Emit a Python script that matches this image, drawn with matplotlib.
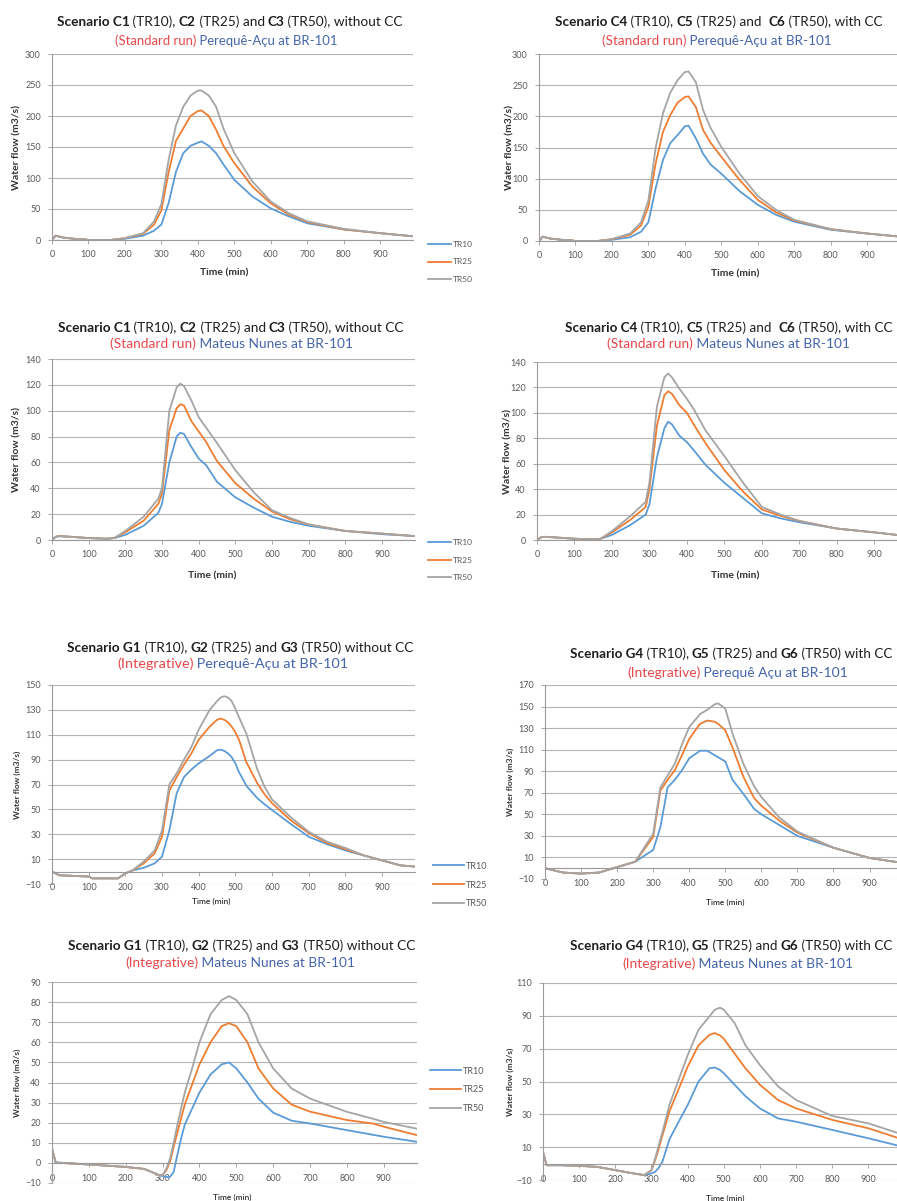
import matplotlib
matplotlib.use('Agg')
import matplotlib.pyplot as plt
from matplotlib.transforms import IdentityTransform

plt.rcParams['font.family'] = ['Lato', 'DejaVu Sans']

# ---------------- DATA ----------------
SERIES = ['TR10', 'TR25', 'TR50']

# Panel 1: Standard run, Perequê-Açu, without CC (C1, C2, C3)
T1 = [0, 10, 30, 60, 90, 100, 160, 200, 250, 280, 300, 320, 340, 360, 380, 400, 410, 430, 450, 470, 500, 550, 600, 650, 700, 800, 900, 990]
P1_TR10 = [0, 7, 4, 2, 1, 0, 0, 2, 7, 15, 25, 60, 110, 140, 152, 157, 159, 152, 140, 122, 97, 70, 51, 38, 27, 17, 11, 6]
P1_TR25 = [0, 7, 4, 2, 1, 0, 0, 3, 10, 25, 48, 110, 160, 180, 200, 208, 209, 200, 178, 152, 124, 86, 59, 41, 29, 17, 11, 6]
P1_TR50 = [0, 7, 4, 2, 1, 0, 0, 3, 11, 30, 58, 130, 185, 215, 233, 241, 241, 233, 215, 180, 140, 94, 62, 43, 30, 18, 11, 6]

# Panel 2: Standard run, Perequê-Açu, with CC (C4, C5, C6)
T2 = T1
P2_TR10 = [0, 7, 4, 2, 1, 0, 0, 2, 6, 15, 30, 85, 130, 157, 170, 184, 185, 165, 140, 123, 108, 80, 58, 42, 31, 18, 12, 7]
P2_TR25 = [0, 7, 4, 2, 1, 0, 0, 3, 10, 25, 55, 125, 175, 202, 222, 231, 232, 215, 178, 158, 135, 98, 66, 46, 33, 19, 12, 7]
P2_TR50 = [0, 7, 4, 2, 1, 0, 0, 3, 12, 30, 65, 150, 205, 238, 258, 271, 272, 255, 210, 182, 151, 108, 72, 50, 34, 19, 12, 7]

# Panel 3: Standard run, Mateus Nunes, without CC
T3 = [0, 10, 20, 50, 100, 150, 170, 200, 250, 290, 300, 320, 340, 350, 360, 380, 400, 420, 450, 500, 550, 600, 650, 700, 800, 900, 990]
P3_TR10 = [0, 2.5, 3, 2.5, 1.5, 1, 1.5, 4, 11, 21, 28, 60, 80, 83, 82, 72, 63, 58, 45, 33, 25, 18, 14, 11, 7, 4.5, 3]
P3_TR25 = [0, 2.5, 3, 2.5, 1.5, 1, 1.5, 6, 15, 28, 36, 85, 102, 105, 104, 92, 84, 76, 61, 44, 32, 22, 16, 12, 7, 5, 3]
P3_TR50 = [0, 2.5, 3, 2.5, 1.5, 1, 1.5, 7, 18, 32, 40, 100, 118, 121, 119, 108, 95, 87, 75, 54, 37, 23, 17, 12, 7, 5, 3]

# Panel 4: Standard run, Mateus Nunes, with CC
T4 = T3
P4_TR10 = [0, 2, 2.5, 2, 1, 0.5, 1, 4, 12, 20, 28, 65, 88, 93, 91, 82, 77, 70, 59, 45, 33, 21, 17, 14, 9, 6, 3]
P4_TR25 = [0, 2, 2.5, 2, 1, 0.5, 1, 6, 16, 26, 40, 90, 114, 117, 115, 106, 100, 90, 76, 55, 38, 24, 19, 15, 9, 6, 3]
P4_TR50 = [0, 2, 2.5, 2, 1, 0.5, 1, 7, 19, 30, 45, 105, 128, 131, 128, 119, 111, 102, 86, 66, 45, 26, 20, 15, 9, 6, 3]

# Panel 5: Integrative, Perequê-Açu, without CC (G1, G2, G3)
T5 = [0, 20, 100, 110, 180, 200, 220, 250, 280, 300, 320, 340, 360, 380, 400, 430, 450, 460, 470, 480, 490, 500, 510, 530, 560, 580, 600, 650, 700, 750, 800, 850, 900, 950, 990]
P5_TR10 = [0, -3, -4, -5.5, -5.5, -1.5, 1, 3, 6.6, 12, 33, 63, 76, 82, 87, 93, 97.5, 98, 97, 95, 92, 87, 80, 69, 59, 54, 49.5, 38.5, 28, 22, 17, 13, 9, 5, 4]
P5_TR25 = [0, -3, -4, -5.5, -5.5, -1.5, 1, 6.6, 14.6, 28, 65, 76, 86, 95, 106, 116.5, 122, 123, 122, 120, 116.5, 112, 106, 88, 71, 62, 55, 41.5, 31, 23, 18, 13, 9, 5, 4]
P5_TR50 = [0, -3, -4, -5.5, -5.5, -1.5, 1, 8, 17, 33, 70, 79, 90, 100, 114, 130, 137, 140, 141, 140, 137, 131, 124, 111, 82, 68, 58, 44, 32, 24, 19, 13, 9, 5, 4]

# Panel 6: Integrative, Perequê Açu, with CC (G4, G5, G6)
T6 = [0, 50, 100, 150, 200, 220, 250, 300, 320, 340, 360, 380, 400, 430, 450, 470, 480, 500, 520, 550, 580, 600, 650, 700, 800, 900, 990]
P6_TR10 = [0, -4, -5, -4, 1, 3, 6, 17, 38, 75, 82, 91, 102, 109, 109, 105, 103, 99, 82, 69, 55, 50, 40, 30, 19, 9.5, 5]
P6_TR25 = [0, -4, -5, -4, 1, 3, 6, 29, 72, 82, 91, 105, 120, 134, 137, 136, 134, 128, 112, 85, 65, 58, 44, 33, 19, 9.5, 5]
P6_TR50 = [0, -4, -5, -4, 1, 3, 6, 32, 75, 86, 97, 115, 131, 143, 147, 152, 153, 148, 125, 97, 76, 66, 47, 34, 19, 9.5, 5]

# Panel 7: Integrative, Mateus Nunes, without CC
T7 = [0, 10, 100, 200, 250, 290, 300, 310, 320, 330, 340, 350, 360, 380, 400, 430, 460, 480, 500, 530, 560, 600, 650, 700, 800, 870, 900, 990]
P7_TR10 = [7, 0.2, -0.8, -2, -3, -6, -6.5, -7, -7, -4.5, 4, 12, 19, 27, 35, 44, 49, 50, 47, 40, 32, 25, 21, 19.6, 16.3, 14, 13, 10.5]
P7_TR25 = [7, 0.2, -0.8, -2, -3, -6, -6, -3.7, 0.5, 8, 15, 22, 29, 39, 49, 60, 68, 69.5, 68, 60, 47, 37, 29, 25.5, 21.3, 19.6, 18, 13.8]
P7_TR50 = [7, 0.2, -0.8, -2, -3, -6, -6, -3, 2, 10, 19, 27, 35, 47, 60, 74, 81, 83, 81, 74, 60, 47, 37, 32, 25.4, 22, 20.4, 17]

# Panel 8: Integrative, Mateus Nunes, with CC
T8 = [0, 10, 50, 100, 150, 200, 250, 280, 300, 310, 320, 330, 350, 380, 400, 430, 460, 475, 490, 500, 530, 560, 600, 650, 700, 800, 900, 990]
P8_TR10 = [7, -1, -1, -1.4, -2, -4, -6, -7, -6, -5, -2.6, 1, 15, 27.5, 35.6, 50, 58, 58.5, 57, 55, 48, 41, 33.6, 27.5, 25.5, 20.5, 15.4, 10.5]
P8_TR25 = [7, -1, -1, -1.4, -2, -4, -6, -7, -4, 2, 9, 17, 32, 48, 59, 72, 78.4, 79.5, 78, 76, 67, 58, 48, 38.7, 33.6, 26.6, 21.5, 15]
P8_TR50 = [7, -1, -1, -1.4, -2, -4, -6, -7, -4, 3, 11, 19, 36, 54, 66, 81.5, 89.6, 93.7, 95, 93.7, 85.6, 72, 60, 47, 38.7, 29, 24.5, 18]

X_TICKS = [0, 100, 200, 300, 400, 500, 600, 700, 800, 900]

TITLE1 = [
    [('Scenario C1', True), (' (TR10), ', False), ('C2', True), (' (TR25) and ', False), ('C3', True), (' (TR50), without CC', False)],
    [('Scenario C4', True), (' (TR10), ', False), ('C5', True), (' (TR25) and  ', False), ('C6', True), (' (TR50), with CC', False)],
    [('Scenario C1', True), (' (TR10), ', False), ('C2', True), (' (TR25) and ', False), ('C3', True), (' (TR50), without CC', False)],
    [('Scenario C4', True), (' (TR10), ', False), ('C5', True), (' (TR25) and  ', False), ('C6', True), (' (TR50), with CC', False)],
    [('Scenario G1', True), (' (TR10), ', False), ('G2', True), (' (TR25) and ', False), ('G3', True), (' (TR50) without CC', False)],
    [('Scenario G4', True), (' (TR10), ', False), ('G5', True), (' (TR25) and ', False), ('G6', True), (' (TR50) with CC', False)],
    [('Scenario G1', True), (' (TR10), ', False), ('G2', True), (' (TR25) and ', False), ('G3', True), (' (TR50) without CC', False)],
    [('Scenario G4', True), (' (TR10), ', False), ('G5', True), (' (TR25) and ', False), ('G6', True), (' (TR50) with CC', False)],
]
TITLE2 = [
    ('(Standard run)', ' Perequê-Açu at BR-101'),
    ('(Standard run)', ' Perequê-Açu at BR-101'),
    ('(Standard run)', ' Mateus Nunes at BR-101'),
    ('(Standard run)', ' Mateus Nunes at BR-101'),
    ('(Integrative)', ' Perequê-Açu at BR-101'),
    ('(Integrative)', ' Perequê Açu at BR-101'),
    ('(Integrative)', ' Mateus Nunes at BR-101'),
    ('(Integrative)', ' Mateus Nunes at BR-101'),
]

# ---------------- STYLE / LAYOUT ----------------
W, H = 897, 1201
BLUE, ORANGE, GREY = '#5B9BD5', '#ED7D31', '#A5A5A5'
RED_T, BLUE_T, DARK = '#E8484A', '#4565AA', '#1E1E1E'
TICKC = '#595959'

fig = plt.figure(figsize=(W / 100, H / 100), dpi=100)
renderer = fig.canvas.get_renderer()

LAYOUT = [
    dict(box=(52, 413, 54, 240), ylim=(0, 300), ystep=50, integ=False,
         t1=dict(xc=229.5, y=21, w=345), t2=dict(xc=226, y=40, w=222),
         xl=(224, 273), yl=17, leg=(428, 262)),
    dict(box=(539, 900, 54, 241), ylim=(0, 300), ystep=50, integ=False,
         t1=dict(xc=718.5, y=21, w=327), t2=dict(xc=717, y=40, w=230),
         xl=(735, 274), yl=510, leg=None),
    dict(box=(52, 415, 359, 540), ylim=(0, 140), ystep=20, integ=False,
         t1=dict(xc=230.5, y=327, w=345), t2=dict(xc=231, y=343, w=242),
         xl=(212, 576), yl=17, leg=(428, 560)),
    dict(box=(537, 908, 362, 540), ylim=(0, 140), ystep=20, integ=False,
         t1=dict(xc=728.5, y=327, w=327), t2=dict(xc=728.5, y=343, w=243),
         xl=(735, 576), yl=508, leg=None),
    dict(box=(52, 415, 685, 884), ylim=(-10, 150), ystep=20, integ=True,
         t1=dict(xc=240, y=647, w=346), t2=dict(xc=232.5, y=663, w=231),
         xl=(211, 901), yl=17, leg=(433, 885)),
    dict(box=(545, 902, 685, 879), ylim=(-10, 170), ystep=20, integ=True,
         t1=dict(xc=731, y=653, w=322), t2=dict(xc=737.5, y=672, w=221),
         xl=(725, 902), yl=510, leg=None),
    dict(box=(52, 417, 982, 1183), ylim=(-10, 90), ystep=10, integ=True,
         t1=dict(xc=241.5, y=945, w=347), t2=dict(xc=240, y=962, w=230),
         xl=(232, 1197), yl=17, leg=(430, 1090)),
    dict(box=(543, 901, 983, 1180), ylim=(-10, 110), ystep=20, integ=True,
         t1=dict(xc=731, y=945, w=322), t2=dict(xc=737.5, y=963, w=231),
         xl=(725, 1198), yl=510, leg=None),
]

DATA = [
    (T1, P1_TR10, P1_TR25, P1_TR50),
    (T2, P2_TR10, P2_TR25, P2_TR50),
    (T3, P3_TR10, P3_TR25, P3_TR50),
    (T4, P4_TR10, P4_TR25, P4_TR50),
    (T5, P5_TR10, P5_TR25, P5_TR50),
    (T6, P6_TR10, P6_TR25, P6_TR50),
    (T7, P7_TR10, P7_TR25, P7_TR50),
    (T8, P8_TR10, P8_TR25, P8_TR50),
]


def measure(s, size, weight):
    t1 = fig.text(0, 0, '|' + s + '|', fontsize=size, fontweight=weight)
    t2 = fig.text(0, 0, '||', fontsize=size, fontweight=weight)
    w = t1.get_window_extent(renderer).width - t2.get_window_extent(renderer).width
    t1.remove()
    t2.remove()
    return w


def rich(parts, y, xc, width):
    base = 10.0
    ws = [measure(s, base, 'bold' if b else 'normal') for s, b, c in parts]
    tot = sum(ws)
    fs = base * width / tot
    ws = [w * fs / base for w in ws]
    tot = sum(ws)
    x = xc - tot / 2
    by = H - y - 0.36 * fs * 100 / 72
    for (s, b, c), w in zip(parts, ws):
        fig.text(x, by, s, transform=IdentityTransform(), fontsize=fs,
                 fontweight='bold' if b else 'normal', color=c, ha='left', va='baseline')
        x += w


for i, (lay, dat) in enumerate(zip(LAYOUT, DATA)):
    x0, x1, yt, yb = lay['box']
    ax = fig.add_axes([x0 / W, 1 - yb / H, (x1 - x0) / W, (yb - yt) / H])
    t, a, b, c = dat
    ax.plot(t, a, color=BLUE, lw=1.3, label=SERIES[0])
    ax.plot(t, b, color=ORANGE, lw=1.3, label=SERIES[1])
    ax.plot(t, c, color=GREY, lw=1.3, label=SERIES[2])
    ax.set_xlim(0, 990)
    ymin, ymax = lay['ylim']
    ax.set_ylim(ymin, ymax)
    ax.set_xticks(X_TICKS)
    ax.set_yticks(list(range(ymin, ymax + 1, lay['ystep'])))
    ax.grid(axis='y', color='#B4B4B4', lw=0.8)
    ax.set_axisbelow(True)
    for sp in ['top', 'right']:
        ax.spines[sp].set_visible(False)
    for sp in ['left', 'bottom']:
        ax.spines[sp].set_color('#9A9A9A')
        ax.spines[sp].set_linewidth(0.8)
    if lay['integ']:
        ax.spines['bottom'].set_position(('data', 0))
    ax.tick_params(axis='both', length=3, width=0.6, color='#9A9A9A',
                   labelsize=6.5, labelcolor=TICKC)
    ax.tick_params(axis='x', pad=5 if lay['integ'] else 4.5)
    ax.tick_params(axis='y', pad=5)

    small = lay['integ']
    ax.set_xlabel('Time (min)', fontsize=6 if small else 7.5,
                  fontweight='semibold' if small else 'bold', color='#333333')
    ax.xaxis.label.set_va('center')
    xc, yc = lay['xl']
    ax.xaxis.set_label_coords((xc - x0) / (x1 - x0), (yb - yc) / (yb - yt))
    ax.set_ylabel('Water flow (m3/s)', fontsize=6 if small else 7.5,
                  fontweight='bold', color='#333333')
    ax.yaxis.label.set_va('center')
    ax.yaxis.set_label_coords((lay['yl'] - x0) / (x1 - x0), 0.5)

    if lay['leg'] is not None:
        lx, ly = lay['leg']
        fs = 6.5 if small else 6
        leg = ax.legend(loc='center left', bbox_to_anchor=(lx / W, 1 - ly / H),
                        bbox_transform=fig.transFigure, frameon=False, fontsize=fs,
                        handlelength=(3.4 if small else 2.7), handletextpad=0.25,
                        labelspacing=(1.1 if small else 1.3), borderpad=0, borderaxespad=0)
        for tx in leg.get_texts():
            tx.set_color(TICKC)

    p1 = [(s, bb, DARK) for s, bb in TITLE1[i]]
    t1 = lay['t1']
    rich(p1, t1['y'], t1['xc'], t1['w'])
    r, bl = TITLE2[i]
    t2 = lay['t2']
    rich([(r, False, RED_T), (bl, False, BLUE_T)], t2['y'], t2['xc'], t2['w'])

fig.savefig('out.png', dpi=100, facecolor='white')
